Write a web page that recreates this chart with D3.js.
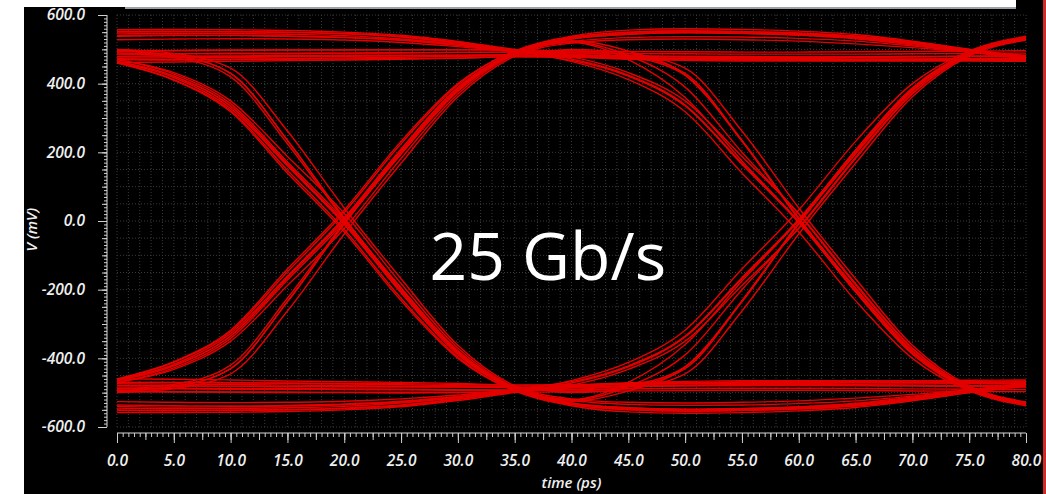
<!DOCTYPE html>
<html>
<head>
<meta charset="utf-8">
<script src="https://cdn.jsdelivr.net/npm/d3@7"></script>
<style>
  html, body { margin: 0; padding: 0; background: #fff; overflow: hidden; }
  svg { display: block; }
  .lbl text { font-family: "Open Sans", sans-serif; font-style: italic; font-weight: 600; font-size: 15.5px; fill: #efefef; }
  .ticks line, .lbl line { stroke: #cfcfcf; }
  .ticks path, .lbl path { display: none; }
</style>
</head>
<body>
<svg id="chart" width="1046" height="494"></svg>
<script>
// sample times of every trace (ps)
var timePs = [0, 5, 10, 15, 20, 25, 30, 35, 40, 45, 50, 55, 60, 65, 70, 75, 80];

// traces, mV at each sample time
var highHold = [
  [478, 478, 479, 480, 481, 481, 482, 483, 482, 481, 480, 479, 478, 478, 479, 480, 481],
  [470, 469, 470, 471, 472, 473, 475, 478, 477, 474, 472, 471, 470, 470, 471, 472, 470],
  [486, 487, 488, 488, 489, 490, 491, 492, 490, 488, 487, 486, 486, 486, 487, 488, 489],
  [552, 553, 552, 550, 546, 538, 520, 497, 482, 476, 474, 473, 473, 472, 472, 473, 474],
  [545, 547, 546, 544, 540, 530, 515, 495, 480, 473, 470, 469, 468, 468, 469, 470, 468],
  [557, 558, 557, 555, 550, 541, 523, 500, 486, 480, 478, 477, 477, 477, 478, 479, 478],
  [538, 540, 540, 538, 534, 526, 512, 494, 479, 471, 468, 466, 466, 466, 467, 468, 467],
  [528, 530, 531, 530, 527, 520, 508, 493, 484, 480, 478, 477, 477, 478, 479, 480, 481],
  [495, 496, 497, 498, 498, 499, 499, 498, 496, 494, 493, 492, 492, 493, 494, 495, 496],
  [462, 463, 465, 467, 469, 471, 474, 479, 479, 476, 473, 470, 468, 467, 466, 466, 465]
];
var lowHold = [
  [-480, -480, -481, -482, -482, -483, -484, -485, -484, -482, -480, -479, -478, -478, -479, -481, -482],
  [-470, -470, -471, -472, -473, -474, -476, -478, -477, -475, -473, -471, -470, -470, -471, -472, -471],
  [-488, -489, -490, -490, -491, -492, -493, -493, -491, -489, -488, -487, -487, -488, -489, -490, -491],
  [-552, -553, -552, -550, -546, -538, -520, -497, -482, -476, -474, -473, -473, -472, -472, -473, -474],
  [-545, -547, -546, -544, -540, -530, -515, -495, -480, -473, -470, -469, -468, -468, -469, -470, -468],
  [-558, -558, -557, -555, -550, -541, -523, -500, -486, -480, -478, -477, -477, -477, -478, -479, -478],
  [-536, -538, -539, -537, -533, -525, -511, -493, -479, -471, -467, -465, -465, -465, -466, -467, -466],
  [-526, -528, -529, -528, -525, -518, -507, -492, -485, -482, -480, -479, -479, -480, -481, -482, -483],
  [-497, -498, -499, -500, -500, -501, -500, -499, -497, -495, -494, -493, -493, -494, -495, -496, -497],
  [-460, -461, -463, -466, -468, -470, -473, -478, -478, -475, -472, -469, -467, -466, -465, -464, -463]
];
var fallAt20 = [
  [465, 422, 335, 165, -5, -205, -385, -490, -532, -546, -550, -548, -544, -535, -518, -496, -475],
  [495, 482, 430, 235, 8, -195, -378, -487, -530, -544, -549, -547, -542, -533, -516, -494, -474],
  [470, 428, 342, 172, 2, -200, -380, -488, -530, -544, -548, -546, -541, -531, -513, -492, -472],
  [490, 476, 420, 225, 4, -198, -382, -489, -534, -549, -553, -551, -546, -537, -520, -498, -477],
  [462, 418, 328, 160, -10, -210, -390, -492, -535, -550, -554, -552, -548, -539, -522, -500, -478],
  [460, 410, 318, 140, -32, -232, -400, -495, -538, -556, -560, -558, -553, -543, -524, -500, -480],
  [500, 488, 445, 262, 38, -168, -362, -480, -518, -528, -530, -528, -524, -516, -505, -492, -483],
  [470, 432, 350, 188, 22, -182, -370, -484, -522, -534, -537, -536, -532, -524, -510, -493, -478]
];
var fallThenRise = [
  [465, 422, 335, 165, -5, -205, -385, -490, -520, -470, -360, -175, 2, 205, 386, 490, 534],
  [495, 482, 430, 235, 8, -195, -378, -487, -525, -495, -425, -235, -8, 198, 380, 488, 532],
  [462, 412, 322, 148, -25, -225, -396, -494, -522, -482, -390, -200, -20, 186, 372, 484, 528]
];
var riseAt20 = [
  [-465, -422, -335, -165, 5, 205, 385, 490, 532, 546, 550, 548, 544, 535, 518, 496, 475],
  [-495, -482, -430, -235, -8, 195, 378, 487, 530, 544, 549, 547, 542, 533, 516, 494, 474],
  [-470, -428, -342, -172, -2, 200, 380, 488, 530, 544, 548, 546, 541, 531, 513, 492, 472],
  [-490, -476, -420, -225, -4, 198, 382, 489, 534, 549, 553, 551, 546, 537, 520, 498, 477],
  [-462, -418, -328, -160, 10, 210, 390, 492, 535, 550, 554, 552, 548, 539, 522, 500, 478],
  [-460, -410, -318, -140, 32, 232, 400, 495, 538, 556, 560, 558, 553, 543, 524, 500, 480],
  [-500, -488, -445, -262, -38, 168, 362, 480, 518, 528, 530, 528, 524, 516, 505, 492, 483],
  [-470, -432, -350, -188, -22, 182, 370, 484, 522, 534, 537, 536, 532, 524, 510, 493, 478]
];
var riseThenFall = [
  [-465, -422, -335, -165, 5, 205, 385, 490, 520, 470, 360, 175, -2, -205, -386, -490, -534],
  [-495, -482, -430, -235, -8, 195, 378, 487, 525, 495, 425, 235, 8, -198, -380, -488, -532],
  [-462, -412, -322, -148, 25, 225, 396, 494, 522, 482, 390, 200, 20, -186, -372, -484, -528]
];
var fallAt60 = [
  [480, 481, 481, 482, 483, 483, 483, 484, 468, 422, 335, 165, -5, -205, -385, -490, -532],
  [474, 475, 476, 478, 480, 481, 482, 485, 495, 482, 430, 235, 8, -195, -378, -487, -530],
  [550, 552, 551, 549, 545, 536, 518, 496, 472, 425, 338, 168, -2, -207, -388, -492, -535],
  [486, 487, 488, 488, 489, 490, 491, 492, 490, 478, 425, 232, 5, -198, -381, -488, -531],
  [540, 542, 541, 539, 535, 527, 512, 494, 465, 412, 318, 140, -32, -232, -400, -495, -538],
  [470, 470, 471, 473, 475, 477, 480, 483, 500, 488, 445, 262, 38, -168, -362, -480, -527],
  [496, 497, 498, 498, 499, 499, 499, 498, 478, 432, 350, 188, 22, -182, -370, -484, -529]
];
var riseAt60 = [
  [-480, -481, -481, -482, -483, -483, -483, -484, -468, -422, -335, -165, 5, 205, 385, 490, 532],
  [-474, -475, -476, -478, -480, -481, -482, -485, -495, -482, -430, -235, -8, 195, 378, 487, 530],
  [-550, -552, -551, -549, -545, -536, -518, -496, -472, -425, -338, -168, 2, 207, 388, 492, 535],
  [-486, -487, -488, -488, -489, -490, -491, -492, -490, -478, -425, -232, -5, 198, 381, 488, 531],
  [-540, -542, -541, -539, -535, -527, -512, -494, -465, -412, -318, -140, 32, 232, 400, 495, 538],
  [-470, -470, -471, -473, -475, -477, -480, -483, -500, -488, -445, -262, -38, 168, 362, 480, 527],
  [-496, -497, -498, -498, -499, -499, -499, -498, -478, -432, -350, -188, -22, 182, 370, 484, 529]
];

var yLabels = [-600, -400, -200, 0, 200, 400, 600];
var xLabels = [0, 5, 10, 15, 20, 25, 30, 35, 40, 45, 50, 55, 60, 65, 70, 75, 80];

var svg = d3.select("#chart");

// black panel + the bits of window chrome around it
svg.append("rect").attr("x", 24).attr("y", 0).attr("width", 1019).attr("height", 494).attr("fill", "#000");
svg.append("rect").attr("x", 24).attr("y", 0).attr("width", 992).attr("height", 7).attr("fill", "#fff");
svg.append("rect").attr("x", 125).attr("y", 7).attr("width", 891).attr("height", 2).attr("fill", "#9ba1a9");
svg.append("rect").attr("x", 1043).attr("y", 0).attr("width", 3).attr("height", 494).attr("fill", "#cf2b2b");

var x = d3.scaleLinear().domain([0, 80]).range([117, 1026]);
var y = d3.scaleLinear().domain([-600, 600]).range([427, 15]);

// dotted grid
var grid = svg.append("g").attr("stroke", "#3a3a3a").attr("stroke-dasharray", "1 2");
grid.selectAll("line.v").data(d3.range(0, 81, 1)).join("line")
    .attr("x1", function (d) { return x(d); }).attr("x2", function (d) { return x(d); })
    .attr("y1", y(600)).attr("y2", y(-600));
grid.selectAll("line.h").data(d3.range(-600, 601, 50)).join("line")
    .attr("x1", x(0)).attr("x2", x(80))
    .attr("y1", function (d) { return y(d); }).attr("y2", function (d) { return y(d); });

// eye traces
var traces = [].concat(highHold, lowHold, fallAt20, fallThenRise, riseAt20, riseThenFall, fallAt60, riseAt60);
var line = d3.line()
    .x(function (d, i) { return x(timePs[i]); })
    .y(function (d) { return y(d); })
    .curve(d3.curveMonotoneX);
svg.append("g").selectAll("path").data(traces).join("path")
    .attr("d", line)
    .attr("fill", "none")
    .attr("stroke", "#e50000")
    .attr("stroke-width", 1.4);

// y axis
var yAxisX = 107;
svg.append("g").attr("class", "ticks").attr("transform", "translate(" + yAxisX + ",0)")
    .call(d3.axisLeft(y).tickValues(d3.range(-600, 601, 10)).tickSize(3).tickFormat(""));
svg.append("g").attr("class", "ticks").attr("transform", "translate(" + yAxisX + ",0)")
    .call(d3.axisLeft(y).tickValues(d3.range(-600, 601, 50)).tickSize(5).tickFormat(""));
svg.append("g").attr("class", "lbl").attr("transform", "translate(" + yAxisX + ",0)")
    .call(d3.axisLeft(y).tickValues(yLabels).tickSize(9).tickPadding(13)
        .tickFormat(function (d) { return d.toFixed(1); }));
svg.append("line").attr("x1", yAxisX).attr("x2", yAxisX).attr("y1", y(600)).attr("y2", y(-600))
    .attr("stroke", "#d8d8d8");

// x axis
var xAxisY = 433;
svg.append("g").attr("class", "ticks").attr("transform", "translate(0," + xAxisY + ")")
    .call(d3.axisBottom(x).tickValues(d3.range(0, 80.01, 0.5)).tickSize(4).tickFormat(""));
svg.append("g").attr("class", "ticks").attr("transform", "translate(0," + xAxisY + ")")
    .call(d3.axisBottom(x).tickValues(d3.range(0, 80.01, 2.5)).tickSize(7).tickFormat(""));
svg.append("g").attr("class", "lbl").attr("transform", "translate(0," + xAxisY + ")")
    .call(d3.axisBottom(x).tickValues(xLabels).tickSize(10).tickPadding(12)
        .tickFormat(function (d) { return d.toFixed(1); }));
svg.append("line").attr("x1", x(0)).attr("x2", x(80)).attr("y1", xAxisY).attr("y2", xAxisY)
    .attr("stroke", "#d8d8d8");

// axis titles
svg.append("text").attr("x", (x(0) + x(80)) / 2).attr("y", 488)
    .attr("text-anchor", "middle")
    .style("font-family", "Open Sans, sans-serif").style("font-style", "italic")
    .style("font-weight", 600).style("font-size", "15px").attr("fill", "#efefef")
    .text("time (ps)");
svg.append("text").attr("transform", "translate(37," + y(-25) + ") rotate(-90)")
    .attr("text-anchor", "middle")
    .style("font-family", "Open Sans, sans-serif").style("font-style", "italic")
    .style("font-weight", 600).style("font-size", "15px").attr("fill", "#efefef")
    .text("V (mV)");

// rate label
svg.append("text").attr("x", x(27.5)).attr("y", y(-172))
    .style("font-family", "Open Sans, sans-serif").style("font-size", "66px")
    .attr("fill", "#fff")
    .text("25 Gb/s");
</script>
</body>
</html>
